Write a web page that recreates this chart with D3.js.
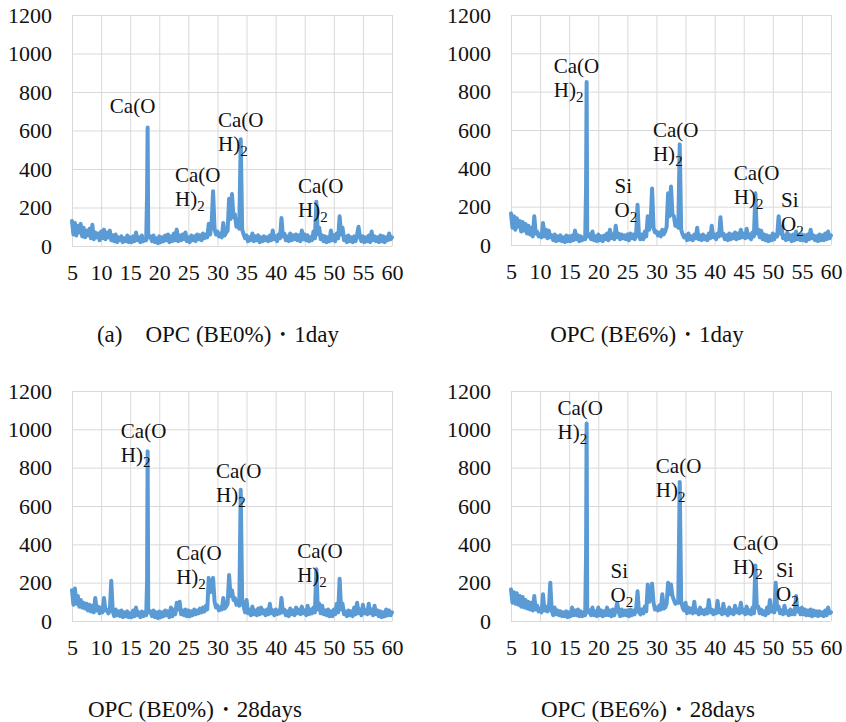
<!DOCTYPE html>
<html>
<head>
<meta charset="utf-8">
<script src="https://cdn.jsdelivr.net/npm/d3@7"></script>
<style>
  body { margin: 0; background: #fff; }
  text { font-family: "Liberation Serif", "Tinos", "Times New Roman", "DejaVu Serif", serif; fill: #111; }
</style>
</head>
<body>
<div id="chart"></div>
<script>
// 2-theta sampling grid (deg), 0.25 deg step
var twoTheta = [
  5,5.25,5.5,5.75,6,6.25,6.5,6.75,7,7.25,7.5,7.75,8,8.25,8.5,8.75,9,9.25,9.5,9.75,
  10,10.25,10.5,10.75,11,11.25,11.5,11.75,12,12.25,12.5,12.75,13,13.25,13.5,13.75,14,14.25,14.5,14.75,
  15,15.25,15.5,15.75,16,16.25,16.5,16.75,17,17.25,17.5,17.75,18,18.25,18.5,18.75,19,19.25,19.5,19.75,
  20,20.25,20.5,20.75,21,21.25,21.5,21.75,22,22.25,22.5,22.75,23,23.25,23.5,23.75,24,24.25,24.5,24.75,
  25,25.25,25.5,25.75,26,26.25,26.5,26.75,27,27.25,27.5,27.75,28,28.25,28.5,28.75,29,29.25,29.5,29.75,
  30,30.25,30.5,30.75,31,31.25,31.5,31.75,32,32.25,32.5,32.75,33,33.25,33.5,33.75,34,34.25,34.5,34.75,
  35,35.25,35.5,35.75,36,36.25,36.5,36.75,37,37.25,37.5,37.75,38,38.25,38.5,38.75,39,39.25,39.5,39.75,
  40,40.25,40.5,40.75,41,41.25,41.5,41.75,42,42.25,42.5,42.75,43,43.25,43.5,43.75,44,44.25,44.5,44.75,
  45,45.25,45.5,45.75,46,46.25,46.5,46.75,47,47.25,47.5,47.75,48,48.25,48.5,48.75,49,49.25,49.5,49.75,
  50,50.25,50.5,50.75,51,51.25,51.5,51.75,52,52.25,52.5,52.75,53,53.25,53.5,53.75,54,54.25,54.5,54.75,
  55,55.25,55.5,55.75,56,56.25,56.5,56.75,57,57.25,57.5,57.75,58,58.25,58.5,58.75,59,59.25,59.5,59.75,
  60
];

var xTicks = [5,10,15,20,25,30,35,40,45,50,55,60];
var yTicks = [0,200,400,600,800,1000,1200];

// OPC (BE0%) 1day
var be0_1d = [
  130,60,120,55,105,70,115,50,95,45,80,55,90,40,110,35,70,45,65,30,
  75,40,85,35,70,45,80,30,55,25,60,20,45,30,50,20,40,25,55,20,
  45,20,50,25,70,30,45,20,55,25,40,30,615,45,50,25,55,20,40,15,
  50,20,45,25,55,30,60,20,50,25,65,30,85,25,55,30,60,35,70,25,
  45,20,55,30,50,25,60,35,55,30,65,40,60,45,115,60,120,285,90,60,
  75,50,65,45,120,55,70,80,245,140,270,150,165,100,120,90,555,85,60,40,
  55,25,45,30,65,25,50,30,55,20,45,25,50,30,45,25,55,30,80,35,
  50,25,60,40,145,50,65,30,50,25,65,30,55,35,60,30,55,25,80,35,
  60,30,55,25,45,30,75,40,230,60,95,35,55,25,50,20,45,25,80,30,
  55,25,65,40,155,60,95,30,50,20,55,25,45,20,50,25,60,100,45,25,
  50,20,45,25,55,20,75,30,50,25,45,20,55,25,50,20,45,30,65,35,
  45
];
var be0_1d_peaks = [[17.9,265],[18.1,50]];

// OPC (BE6%) 1day
var be6_1d = [
  165,90,150,80,140,95,125,70,120,75,110,60,100,55,90,45,150,60,70,45,
  55,40,115,45,80,35,75,40,50,25,55,20,45,25,50,20,40,15,50,20,
  45,20,50,25,75,30,50,20,45,25,40,30,850,45,55,30,70,25,45,20,
  55,25,45,20,50,30,60,25,80,35,55,30,100,40,60,30,55,35,50,30,
  55,25,60,35,55,30,50,210,45,30,55,30,70,45,150,80,120,295,90,65,
  70,50,65,45,80,55,70,95,270,150,305,160,150,100,110,90,525,80,55,40,
  50,25,60,30,45,25,55,35,90,30,50,25,55,30,45,25,60,35,100,40,
  55,30,60,45,145,50,60,30,50,25,60,30,55,35,65,30,60,35,80,40,
  60,35,85,40,55,30,65,45,270,60,80,40,75,30,55,25,50,20,45,25,
  60,30,55,45,150,60,95,35,50,25,65,30,50,20,55,25,70,30,50,25,
  55,25,50,20,55,30,80,35,50,25,45,20,55,25,50,25,60,30,70,35,
  50
];
var be6_1d_peaks = [[17.9,300],[18.1,55]];

// OPC (BE0%) 28days
var be0_28d = [
  160,85,170,90,130,75,110,70,95,65,90,55,85,50,80,45,120,55,75,40,
  70,45,120,55,60,40,55,210,50,25,60,30,50,25,55,20,45,25,50,20,
  40,20,55,25,70,30,45,20,50,25,45,30,885,45,50,25,55,20,45,15,
  50,20,45,25,55,30,50,20,70,25,60,35,95,60,100,35,55,30,60,25,
  55,25,50,30,60,35,55,40,65,45,70,50,80,60,225,150,160,225,100,70,
  80,55,70,60,120,65,75,90,240,130,160,110,120,85,100,80,685,110,75,45,
  110,40,60,30,75,35,55,30,65,35,70,40,55,30,60,35,90,40,55,30,
  60,35,55,40,120,45,60,30,50,25,65,35,55,30,70,40,60,35,75,40,
  55,30,80,35,60,40,70,45,270,60,90,40,80,35,55,30,60,25,50,25,
  60,35,90,45,220,60,90,35,50,25,55,30,50,25,70,35,95,40,60,30,
  85,40,55,35,90,40,60,30,80,35,55,25,50,20,45,25,60,30,55,30,
  45
];
var be0_28d_peaks = [[17.9,200],[18.1,50]];

// OPC (BE6%) 28days
var be6_28d = [
  165,95,150,90,145,85,130,75,125,70,110,65,100,60,95,55,130,60,80,50,
  65,45,140,55,75,50,60,200,55,30,70,35,55,30,50,25,45,25,50,20,
  45,25,70,30,55,30,60,25,50,25,45,30,1030,45,55,30,70,30,50,25,
  70,30,55,25,50,30,70,30,55,25,60,30,55,95,50,25,60,30,55,30,
  55,25,60,30,55,35,60,155,45,35,60,40,75,50,190,100,120,195,95,60,
  70,55,80,60,140,65,70,90,200,140,190,130,110,90,100,95,725,100,70,55,
  95,40,70,45,65,40,100,45,55,35,70,40,55,35,60,40,110,45,60,35,
  55,40,105,45,60,35,90,40,55,30,70,40,55,35,80,45,60,40,95,45,
  60,35,75,40,55,35,70,40,290,70,75,40,60,35,50,30,70,40,110,50,
  70,45,200,60,75,40,55,35,80,40,50,30,60,35,55,35,130,50,65,35,
  70,35,60,30,55,30,60,25,55,30,50,25,50,30,45,25,55,30,70,40,
  45
];
var be6_28d_peaks = [[17.9,350],[18.1,60]];

// peak annotations: [2theta, intensity, phase]
var be0_1d_labels = [[11.5,690,"CaO"],[22.7,332,"CaOH"],[30.1,618,"CaOH"],[43.85,275,"CaOH"]];
var be6_1d_labels = [[12.35,897,"CaOH"],[22.8,271,"SiO"],[29.4,563,"CaOH"],[43.3,339,"CaOH"],[51.4,198,"SiO"]];
var be0_28d_labels = [[13.4,953,"CaOH"],[22.9,317,"CaOH"],[29.75,745,"CaOH"],[43.7,327,"CaOH"]];
var be6_28d_labels = [[13.0,1073,"CaOH"],[22.1,223,"SiO"],[29.9,771,"CaOH"],[43.15,369,"CaOH"],[50.55,228,"SiO"]];

var titles = ["(a)\u3000OPC (BE0%)\u30fb1day", "OPC (BE6%)\u30fb1day", "OPC (BE0%)\u30fb28days", "OPC (BE6%)\u30fb28days"];

var panels = [
  { bg: be0_1d,  peaks: be0_1d_peaks,  labels: be0_1d_labels,  title: titles[0], box: [72, 15, 392, 246],  tx: 218, ty: 342 },
  { bg: be6_1d,  peaks: be6_1d_peaks,  labels: be6_1d_labels,  title: titles[1], box: [511, 15, 831, 245], tx: 647, ty: 342 },
  { bg: be0_28d, peaks: be0_28d_peaks, labels: be0_28d_labels, title: titles[2], box: [72, 391, 392, 621], tx: 195, ty: 717 },
  { bg: be6_28d, peaks: be6_28d_peaks, labels: be6_28d_labels, title: titles[3], box: [511, 391, 831, 621], tx: 648, ty: 717 }
];

var serif = "'Liberation Serif', 'Tinos', 'Times New Roman', 'DejaVu Serif', serif";

function mergeSeries(bg, peaks) {
  var pts = twoTheta.map(function(t, i) { return [t, bg[i]]; })
    .filter(function(p) { return !peaks.some(function(q) { return q[0] === p[0]; }); });
  return pts.concat(peaks).sort(function(a, b) { return a[0] - b[0]; });
}

var svg = d3.select("#chart").append("svg")
  .attr("width", 846)
  .attr("height", 722);

panels.forEach(function(p) {
  var x = d3.scaleLinear().domain([5, 60]).range([p.box[0], p.box[2]]);
  var y = d3.scaleLinear().domain([0, 1200]).range([p.box[3], p.box[1]]);
  var w = p.box[2] - p.box[0], h = p.box[3] - p.box[1];

  var g = svg.append("g");

  // y axis + horizontal grid
  var ya = g.append("g")
    .attr("transform", "translate(" + p.box[0] + ",0)")
    .call(d3.axisLeft(y).tickValues(yTicks).tickFormat(d3.format("d")).tickSize(-w).tickPadding(20));
  // x axis + vertical grid
  var xa = g.append("g")
    .attr("transform", "translate(0," + p.box[3] + ")")
    .call(d3.axisBottom(x).tickValues(xTicks).tickFormat(d3.format("d")).tickSize(-h).tickPadding(18));

  [ya, xa].forEach(function(a) {
    a.attr("font-family", null);
    a.select(".domain").remove();
    a.selectAll(".tick line").attr("stroke", "#d9d9d9").attr("stroke-width", 1);
    a.selectAll(".tick text")
      .attr("fill", "#111")
      .style("font-family", serif)
      .style("font-size", "22px");
  });

  // pattern
  var line = d3.line()
    .x(function(d) { return x(d[0]); })
    .y(function(d) { return y(d[1]); });

  g.append("path")
    .datum(mergeSeries(p.bg, p.peaks))
    .attr("d", line)
    .attr("fill", "none")
    .attr("stroke", "#5b9bd5")
    .attr("stroke-width", 4)
    .attr("stroke-linejoin", "round")
    .attr("stroke-linecap", "round");

  // phase labels
  p.labels.forEach(function(l) {
    var lx = x(l[0]), ly = y(l[1]);
    var first = l[2] === "SiO" ? "Si" : "Ca(O";
    g.append("text").attr("x", lx).attr("y", ly)
      .style("font-family", serif).style("font-size", "21px").text(first);
    if (l[2] === "CaO") return;
    var t2 = g.append("text").attr("x", lx).attr("y", ly + 24)
      .style("font-family", serif).style("font-size", "21px");
    t2.append("tspan").text(l[2] === "SiO" ? "O" : "H)");
    t2.append("tspan").attr("dy", 5).style("font-size", "15px").text("2");
  });

  // caption
  svg.append("text")
    .attr("x", p.tx)
    .attr("y", p.ty)
    .attr("text-anchor", "middle")
    .style("font-family", serif)
    .style("font-size", "23px")
    .text(p.title);
});
</script>
</body>
</html>
